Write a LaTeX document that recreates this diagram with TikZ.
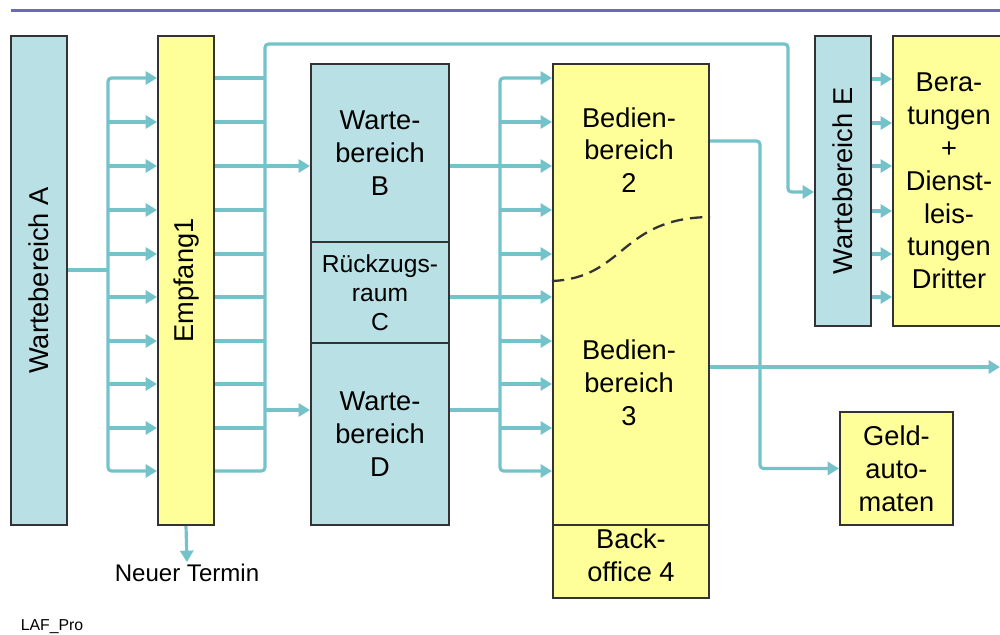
\documentclass[tikz,border=0pt]{standalone}
\usepackage{fontspec}
\setmainfont{Liberation Sans}
\usetikzlibrary{arrows.meta}
\definecolor{wblue}{HTML}{B9E0E4}
\definecolor{wyellow}{HTML}{FFFF99}
\definecolor{flowc}{HTML}{74C3CA}
\definecolor{edgec}{HTML}{333333}
\definecolor{topc}{HTML}{6A6AB8}

\begin{document}
\begin{tikzpicture}[x=0.02cm,y=-0.02cm,font=\fontsize{15.5}{18.7}\selectfont,>={Triangle[length=6.5pt,width=7.5pt]},
  zone/.style={draw=edgec,line width=1.2pt,inner sep=0pt,align=center},
  waitzone/.style={zone,fill=wblue},
  servzone/.style={zone,fill=wyellow},
  lbl/.style={align=center,inner sep=0pt},
  flow/.style={draw=flowc,line width=1.8pt,rounded corners=2pt}]
  \useasboundingbox (0,0) rectangle (1000,635);
  \draw[topc,line width=1.7pt] (11,10.5) -- (1000,10.5);
  % waiting areas and reception
  \node[waitzone,minimum width=1.12cm,minimum height=9.78cm] (wA) at (39,280.5) {\rotatebox{90}{Wartebereich A}};
  \node[servzone,minimum width=1.12cm,minimum height=9.78cm] (emp) at (186,280.5) {\rotatebox{90}{Empfang1}};
  \node[waitzone,minimum width=2.76cm,minimum height=3.56cm] (wB) at (380,153) {Warte-\\bereich\\B};
  \node[waitzone,minimum width=2.76cm,minimum height=2.02cm,font=\fontsize{14}{16.4}\selectfont] (rC) at (380,292.5) {Rückzugs-\\raum\\C};
  \node[waitzone,minimum width=2.76cm,minimum height=3.64cm] (wD) at (380,434) {Warte-\\bereich\\D};
  % service areas
  \node[servzone,minimum width=3.12cm,minimum height=9.22cm] (bed) at (631,294.5) {};
  \node[servzone,minimum width=3.12cm,minimum height=1.46cm] (back) at (631,561.5) {};
  \node[lbl] (b2) at (629,150) {Bedien-\\bereich\\2};
  \node[lbl] (b3) at (629,383) {Bedien-\\bereich\\3};
  \node[lbl] (b4) at (631,555) {Back-\\office 4};
  \draw[edgec,line width=1.3pt,dash pattern=on 7pt off 4pt] (bed.west |- 0,281) .. controls (625,278) and (620,218) .. (bed.east |- 0,217);
  \node[waitzone,minimum width=1.12cm,minimum height=5.8cm] (wE) at (843,181) {\rotatebox{90}{Wartebereich E}};
  \node[servzone,minimum width=2.24cm,minimum height=5.8cm] (ber) at (949,181) {Bera-\\tungen\\+\\Dienst-\\leis-\\tungen\\Dritter};
  \node[servzone,minimum width=2.26cm,minimum height=2.26cm] (geld) at (896.5,468.5) {Geld-\\auto-\\maten};
  \node[font=\fontsize{13.7}{15}\selectfont,inner sep=1pt] (neu) at (187,573) {Neuer Termin};
  \node[font=\fontsize{9}{10}\selectfont] (laf) at (52,627) {LAF\_Pro};
  % into reception
  \coordinate (jA) at (108,270);
  \draw[flow] (wA.east |- jA) -- (jA);
  \draw[flow,->] (jA) |- (emp.west |- 0,78);
  \draw[flow,->] (jA) |- (emp.west |- 0,471);
  \foreach \y in {122,166,210,254,297,341,384,428}
    \draw[flow,->] (108,\y) -- (emp.west |- 0,\y);
  % out of reception
  \coordinate (jE) at (265,44);
  \coordinate (jE2) at (788,192);
  \foreach \y in {78,122,166,210,254,297,341,384,428}
    \draw[flow] (emp.east |- 0,\y) -- (265,\y);
  \draw[flow,->] (emp.east |- 0,471) -| (jE) -| (jE2) -- (wE.west |- jE2);
  \draw[flow,->] (265,166) -- (wB.west |- 0,166);
  \draw[flow,->] (265,410) -- (wD.west |- 0,410);
  \draw[flow,->] (emp.south) -- (neu.north);
  % waiting areas to service
  \draw[flow] (wB.east |- 0,166) -- (500,166);
  \draw[flow] (rC.east |- 0,297) -- (500,297);
  \draw[flow] (wD.east |- 0,410) -- (500,410);
  \draw[flow,->] (500,300) |- (bed.west |- 0,78);
  \draw[flow,->] (500,300) |- (bed.west |- 0,471);
  \foreach \y in {122,166,210,254,297,341,384,428}
    \draw[flow,->] (500,\y) -- (bed.west |- 0,\y);
  % out of service
  \coordinate (out) at (1000,367);
  \draw[flow,->] (bed.east |- 0,141) -| (760,300) |- (geld.west);
  \draw[flow,->] (bed.east |- out) -- (out);
  \foreach \y in {79,123,166,211,254,297}
    \draw[flow,->] (wE.east |- 0,\y) -- (ber.west |- 0,\y);
\end{tikzpicture}
\end{document}
